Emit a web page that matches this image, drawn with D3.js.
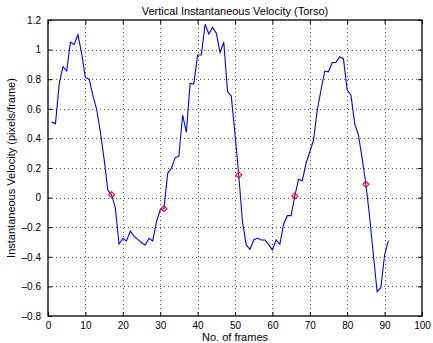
<!DOCTYPE html>
<html>
<head>
<meta charset="utf-8">
<script src="https://cdn.jsdelivr.net/npm/d3@7"></script>
<style>
  body { margin: 0; background: #fff; }
  svg { display: block; font-family: "Liberation Sans", Arial, sans-serif; }
</style>
</head>
<body>
<div id="plot-container"></div>
<script>
// velocity per frame (frames 1..91)
const frames = d3.range(1, 92);
const velocity = [
  0.51, 0.50, 0.77, 0.885, 0.855, 1.05, 1.035, 1.10, 0.975, 0.81,
  0.80, 0.69, 0.597, 0.445, 0.26, 0.05, 0.02, -0.07, -0.315, -0.275,
  -0.293, -0.226, -0.26, -0.282, -0.305, -0.32, -0.275, -0.293, -0.163, -0.084,
  -0.075, 0.164, 0.198, 0.27, 0.28, 0.558, 0.441, 0.772, 0.768, 0.964,
  0.964, 1.171, 1.105, 1.15, 1.11, 0.98, 1.05, 0.716, 0.686, 0.43,
  0.153, -0.163, -0.32, -0.35, -0.286, -0.273, -0.286, -0.286, -0.316, -0.354,
  -0.286, -0.316, -0.178, -0.122, -0.122, 0.011, 0.124, 0.114, 0.232, 0.31,
  0.389, 0.592, 0.727, 0.855, 0.85, 0.912, 0.915, 0.952, 0.937, 0.727,
  0.693, 0.50, 0.423, 0.265, 0.09, -0.129, -0.388, -0.636, -0.608, -0.388,
  -0.291
];
// marked frames (zero crossings)
const markedFrames = [17, 31, 51, 66, 85];

const xTicks = d3.range(0, 101, 10);
const yTicks = [-0.8, -0.6, -0.4, -0.2, 0, 0.2, 0.4, 0.6, 0.8, 1, 1.2];

const canvasWidth = 433;
const canvasHeight = 343;
const margin = { left: 48, right: 11, top: 20, bottom: 27 };

const svg = d3.select('#plot-container')
  .append('svg')
  .attr('width', canvasWidth)
  .attr('height', canvasHeight);

const xScale = d3.scaleLinear().domain([0, 100]).range([margin.left, canvasWidth - margin.right]);
const yScale = d3.scaleLinear().domain([-0.8, 1.2]).range([canvasHeight - margin.bottom, margin.top]);

const fmtY = v => (v < 0 ? '\u2013' + d3.format('.1f')(-v) : (v === 0 || v === 1 ? String(v) : d3.format('.1f')(v)));

// dotted grid
const grid = svg.append('g').attr('stroke', '#555').attr('stroke-width', 1).attr('stroke-dasharray', '1,3');
grid.selectAll('.gx').data(xTicks.slice(1, -1)).enter().append('line')
  .attr('x1', d => Math.round(xScale(d)) + 0.5).attr('x2', d => Math.round(xScale(d)) + 0.5)
  .attr('y1', yScale(1.2)).attr('y2', yScale(-0.8));
grid.selectAll('.gy').data(yTicks.slice(1, -1)).enter().append('line')
  .attr('y1', d => Math.round(yScale(d)) + 0.5).attr('y2', d => Math.round(yScale(d)) + 0.5)
  .attr('x1', xScale(0)).attr('x2', xScale(100));

// axes with inward ticks, mirrored on top and right
const xAxisB = d3.axisBottom(xScale).tickValues(xTicks).tickSizeInner(-4).tickSizeOuter(0).tickPadding(6);
const xAxisT = d3.axisTop(xScale).tickValues(xTicks).tickSizeInner(-4).tickSizeOuter(0).tickFormat('');
const yAxisL = d3.axisLeft(yScale).tickValues(yTicks).tickSizeInner(-4).tickSizeOuter(0).tickPadding(7).tickFormat(fmtY);
const yAxisR = d3.axisRight(yScale).tickValues(yTicks).tickSizeInner(-4).tickSizeOuter(0).tickFormat('');

svg.append('g').attr('transform', `translate(0, ${yScale(-0.8)})`).call(xAxisB);
svg.append('g').attr('transform', `translate(0, ${yScale(1.2)})`).call(xAxisT);
svg.append('g').attr('transform', `translate(${xScale(0)}, 0)`).call(yAxisL);
svg.append('g').attr('transform', `translate(${xScale(100)}, 0)`).call(yAxisR);

svg.selectAll('.domain').remove();
svg.selectAll('.tick line').attr('stroke', '#000');
svg.selectAll('.tick text').attr('font-size', 10).attr('fill', '#000')
  .attr('font-family', '"Liberation Sans", Arial, sans-serif');

// box
svg.append('rect')
  .attr('x', xScale(0)).attr('y', yScale(1.2))
  .attr('width', xScale(100) - xScale(0)).attr('height', yScale(-0.8) - yScale(1.2))
  .attr('fill', 'none').attr('stroke', '#000').attr('stroke-width', 1.3);

// line
const line = d3.line()
  .x((d, i) => xScale(frames[i]))
  .y(d => yScale(d));

svg.append('path')
  .attr('d', line(velocity))
  .attr('fill', 'none')
  .attr('stroke', '#0000ff')
  .attr('stroke-width', 1.1);

// red diamond markers
svg.selectAll('.marker')
  .data(markedFrames)
  .enter()
  .append('path')
  .attr('transform', d => `translate(${xScale(d)}, ${yScale(velocity[d - 1])})`)
  .attr('d', 'M0,-3L3,0L0,3L-3,0Z')
  .attr('fill', 'none')
  .attr('stroke', '#ff0000')
  .attr('stroke-width', 1.1);

// labels
svg.append('text').attr('x', (xScale(0) + xScale(100)) / 2).attr('y', 15)
  .attr('text-anchor', 'middle').attr('font-size', 11).text('Vertical Instantaneous Velocity (Torso)');
svg.append('text').attr('x', (xScale(0) + xScale(100)) / 2).attr('y', 341)
  .attr('text-anchor', 'middle').attr('font-size', 11).text('No. of frames');
svg.append('text')
  .attr('transform', `translate(15, ${(yScale(1.2) + yScale(-0.8)) / 2}) rotate(-90)`)
  .attr('text-anchor', 'middle').attr('font-size', 11).text('Instantaneous Velocity (pixels/frame)');
</script>
</body>
</html>
